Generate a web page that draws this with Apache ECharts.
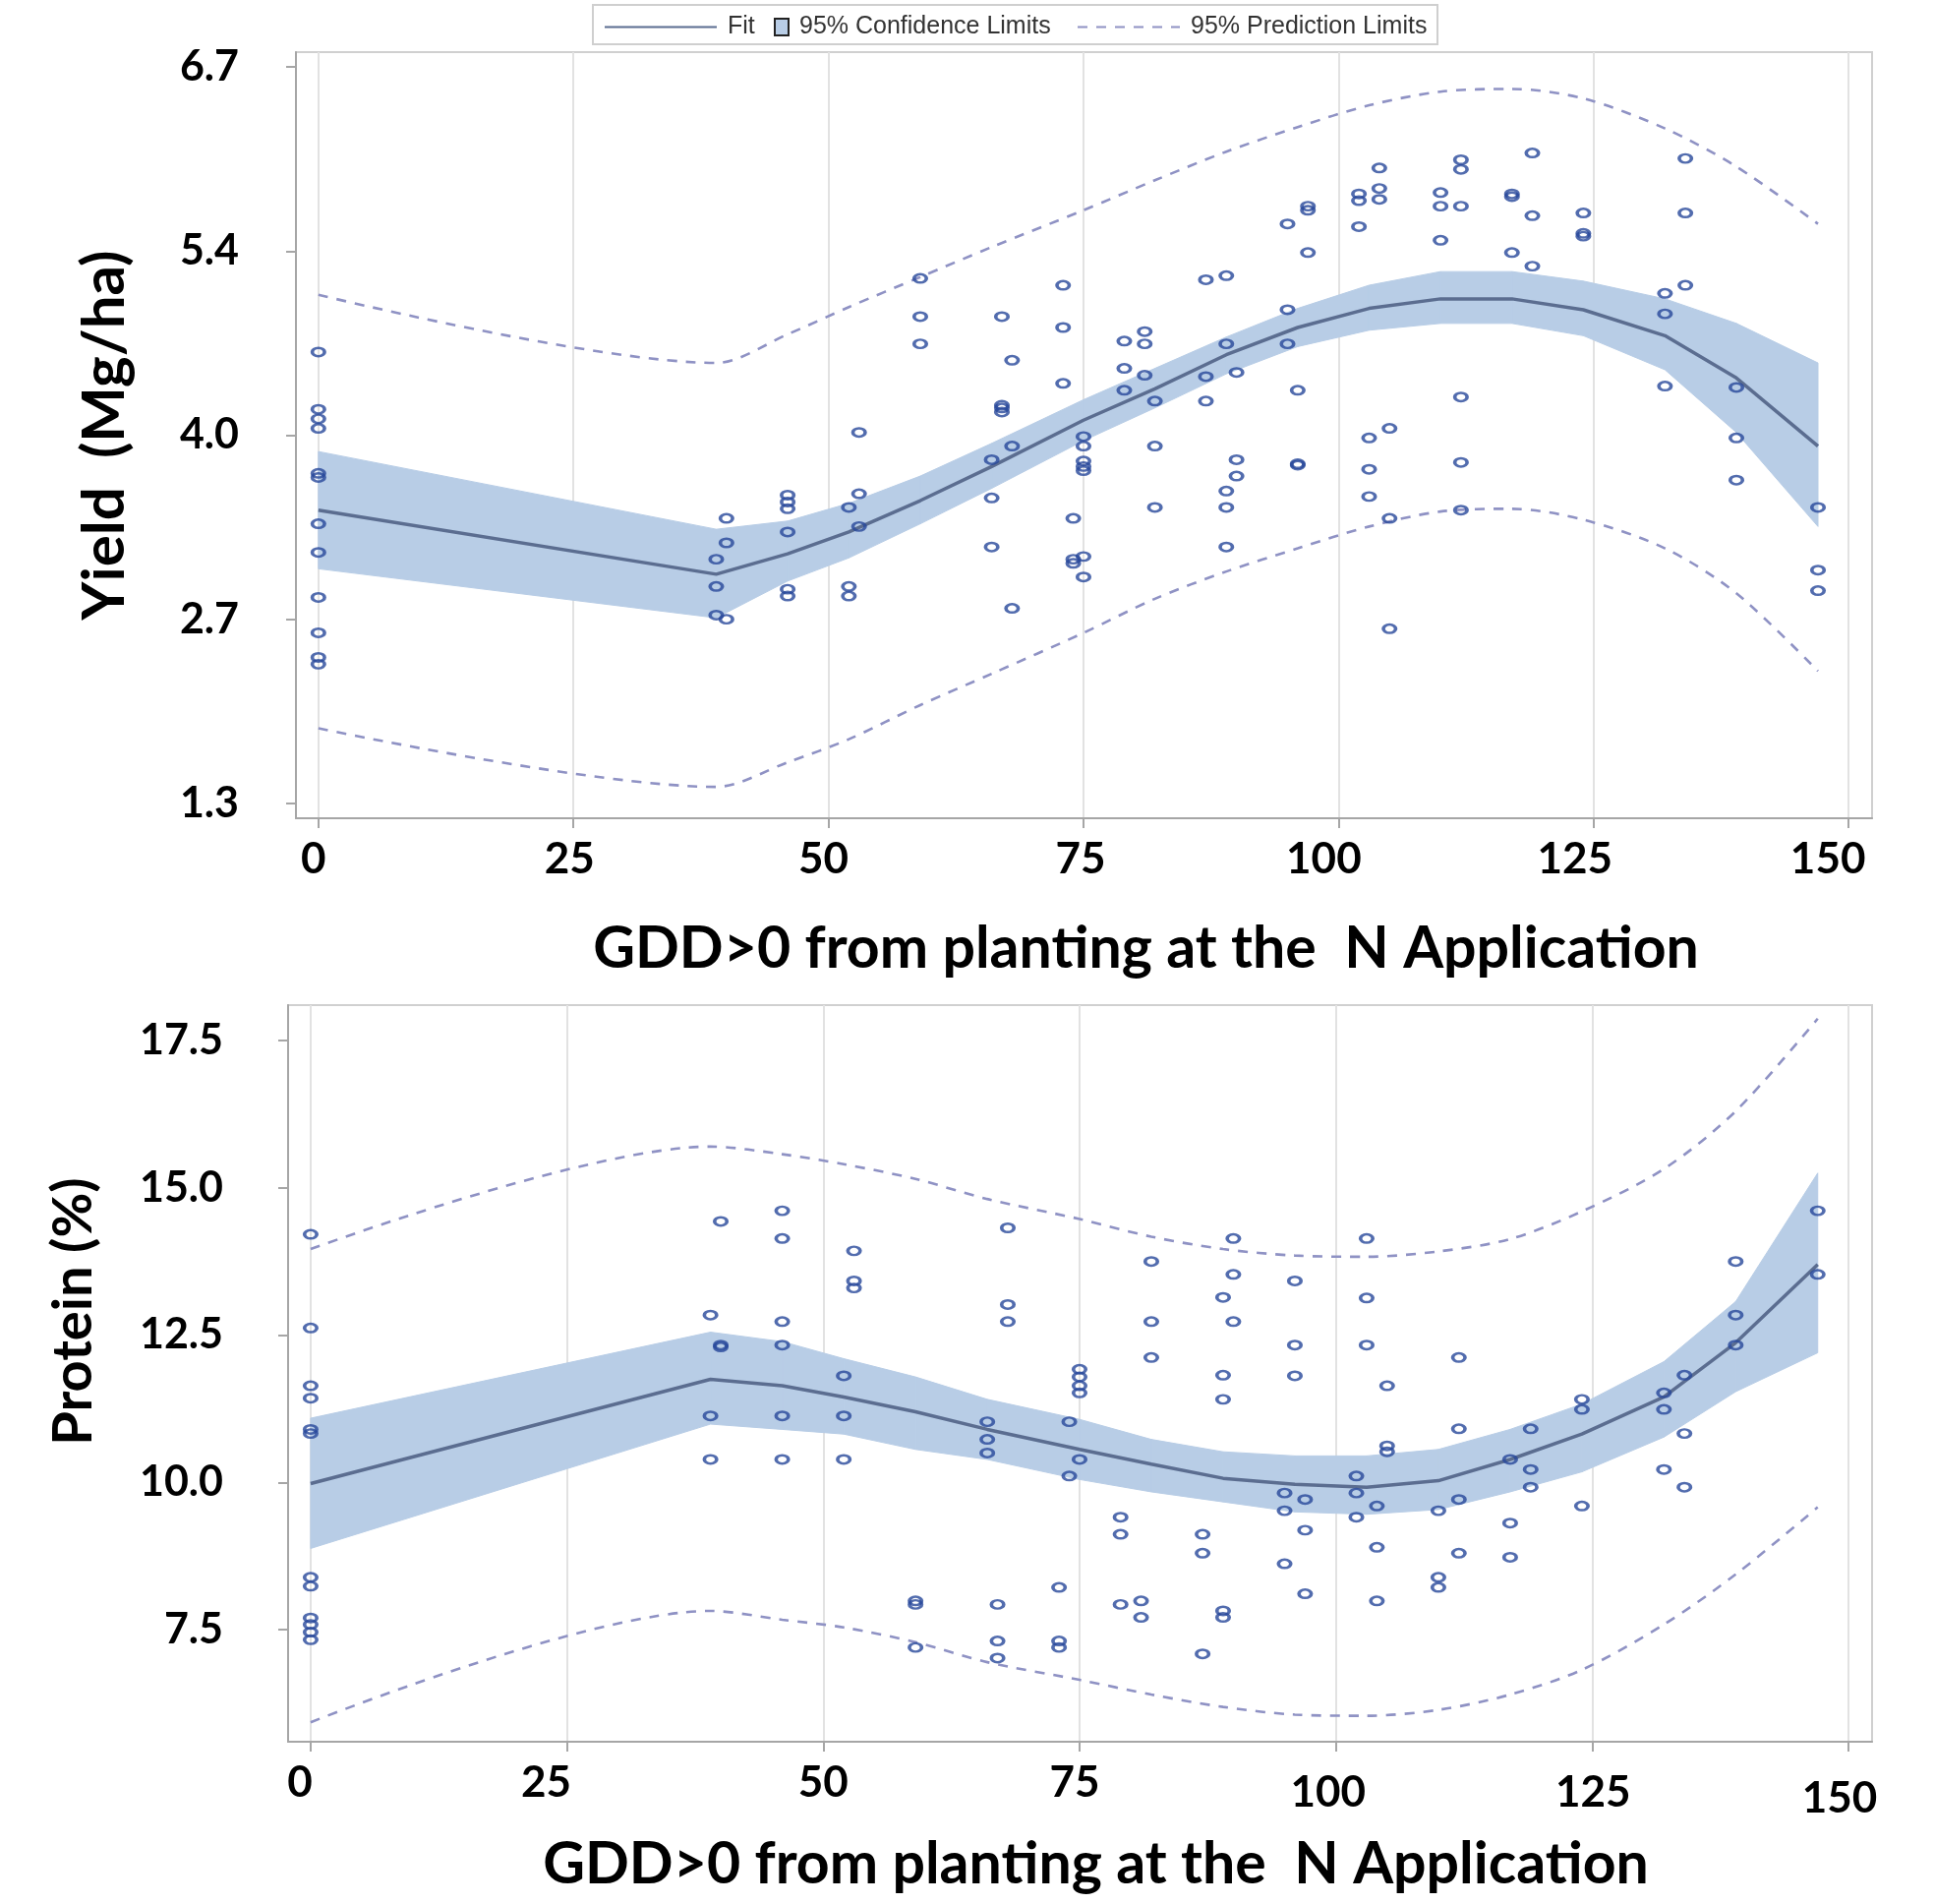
<!DOCTYPE html>
<html>
<head>
<meta charset="utf-8">
<title>Yield and protein vs GDD at N application</title>
<script src="https://cdn.jsdelivr.net/npm/echarts@6/dist/echarts.min.js"></script>
<style>
  html, body { margin: 0; padding: 0; background: #fff; }
  #chart { width: 1967px; height: 1936px; }
</style>
</head>
<body>
<div id="chart"></div>
<script>
// GDD values where the fitted curves are evaluated
const fitX = [0, 39, 46, 52, 59, 66, 75, 82, 89, 96, 103, 110, 117, 124, 132, 139, 147];

// Yield (Mg/ha): fit, 95% confidence and prediction limits
const yieldFit  = [3.45, 2.98, 3.13, 3.29, 3.52, 3.77, 4.11, 4.34, 4.59, 4.79, 4.93, 5.00, 5.00, 4.92, 4.73, 4.42, 3.92];
const yieldClLo = [3.02, 2.66, 2.93, 3.10, 3.35, 3.61, 3.96, 4.20, 4.45, 4.65, 4.77, 4.82, 4.82, 4.73, 4.48, 4.02, 3.33];
const yieldClHi = [3.88, 3.31, 3.37, 3.50, 3.70, 3.94, 4.26, 4.49, 4.72, 4.93, 5.10, 5.20, 5.20, 5.13, 5.00, 4.82, 4.53];
const yieldPlLo = [1.85, 1.42, 1.60, 1.77, 2.02, 2.25, 2.55, 2.80, 3.00, 3.17, 3.33, 3.44, 3.46, 3.38, 3.17, 2.84, 2.27];
const yieldPlHi = [5.03, 4.53, 4.74, 4.94, 5.16, 5.38, 5.65, 5.87, 6.08, 6.26, 6.42, 6.52, 6.54, 6.47, 6.25, 5.97, 5.55];

// Protein (%): fit, 95% confidence and prediction limits
const proteinFit  = [9.98, 11.75, 11.64, 11.45, 11.20, 10.90, 10.56, 10.31, 10.07, 9.97, 9.92, 10.03, 10.39, 10.82, 11.45, 12.37, 13.70];
const proteinClLo = [8.88, 10.99, 10.90, 10.82, 10.56, 10.39, 10.05, 9.84, 9.67, 9.50, 9.46, 9.54, 9.84, 10.18, 10.77, 11.54, 12.20];
const proteinClHi = [11.09, 12.55, 12.39, 12.10, 11.79, 11.41, 11.07, 10.73, 10.52, 10.45, 10.45, 10.56, 10.90, 11.33, 12.05, 13.07, 15.25];
const proteinPlLo = [5.93, 7.82, 7.67, 7.54, 7.29, 6.95, 6.65, 6.40, 6.19, 6.06, 6.04, 6.14, 6.40, 6.82, 7.59, 8.44, 9.58];
const proteinPlHi = [13.96, 15.70, 15.57, 15.40, 15.15, 14.81, 14.47, 14.17, 13.96, 13.85, 13.83, 13.92, 14.13, 14.60, 15.32, 16.30, 17.87];

// observed plots [GDD, yield]
const yieldObs = [
  [0, 4.61], [0, 4.19], [0, 4.12], [0, 4.05], [0, 3.72], [0, 3.69], [0, 3.35], [0, 3.14], [0, 2.81], [0, 2.55], [0, 2.37], [0, 2.32],
  [39, 3.09], [39, 2.89], [39, 2.68], [40, 3.39], [40, 3.21], [40, 2.65],
  [46, 3.56], [46, 3.51], [46, 3.46], [46, 3.29], [46, 2.87], [46, 2.82],
  [52, 3.47], [52, 2.89], [52, 2.82], [53, 4.02], [53, 3.57], [53, 3.33],
  [59, 5.15], [59, 4.87], [59, 4.67],
  [66, 3.82], [66, 3.54], [66, 3.18], [67, 4.87], [67, 4.22], [67, 4.20], [67, 4.17], [68, 4.55], [68, 3.92], [68, 2.73],
  [73, 5.10], [73, 4.79], [73, 4.38], [74, 3.39], [74, 3.09], [74, 3.06],
  [75, 3.99], [75, 3.92], [75, 3.81], [75, 3.77], [75, 3.74], [75, 3.11], [75, 2.96],
  [79, 4.69], [79, 4.49], [79, 4.33], [81, 4.76], [81, 4.67], [81, 4.44], [82, 4.25], [82, 3.92], [82, 3.47],
  [87, 5.14], [87, 4.43], [87, 4.25], [89, 5.17], [89, 4.67], [89, 3.59], [89, 3.47], [89, 3.18], [90, 4.46], [90, 3.82], [90, 3.70],
  [95, 5.55], [95, 4.92], [95, 4.67], [96, 4.33], [96, 3.79], [96, 3.78], [97, 5.68], [97, 5.65], [97, 5.34],
  [102, 5.77], [102, 5.72], [102, 5.53], [103, 3.98], [103, 3.75], [103, 3.55], [104, 5.96], [104, 5.81], [104, 5.73],
  [105, 4.05], [105, 3.39], [105, 2.58],
  [110, 5.78], [110, 5.68], [110, 5.43], [112, 6.02], [112, 5.95], [112, 5.68], [112, 4.28], [112, 3.80], [112, 3.45],
  [117, 5.77], [117, 5.75], [117, 5.34], [119, 6.07], [119, 5.61], [119, 5.24], [124, 5.63], [124, 5.48], [124, 5.46],
  [132, 5.04], [132, 4.89], [132, 4.36], [134, 6.03], [134, 5.63], [134, 5.10],
  [139, 4.35], [139, 3.98], [139, 3.67], [147, 3.47], [147, 3.01], [147, 2.86]
];

// observed plots [GDD, protein]
const proteinObs = [
  [0, 14.21], [0, 12.62], [0, 11.64], [0, 11.43], [0, 10.90], [0, 10.83], [0, 8.39], [0, 8.24], [0, 7.70], [0, 7.59], [0, 7.46], [0, 7.33],
  [39, 12.84], [39, 11.13], [39, 10.39], [40, 14.43], [40, 12.33], [40, 12.30],
  [46, 14.61], [46, 14.14], [46, 12.73], [46, 12.33], [46, 11.13], [46, 10.39],
  [52, 11.81], [52, 11.13], [52, 10.39], [53, 13.93], [53, 13.42], [53, 13.30],
  [59, 7.99], [59, 7.93], [59, 7.20],
  [66, 11.03], [66, 10.73], [66, 10.50], [67, 7.93], [67, 7.31], [67, 7.02], [68, 14.32], [68, 13.02], [68, 12.73],
  [73, 8.22], [73, 7.31], [73, 7.20], [74, 11.03], [74, 10.11],
  [75, 11.92], [75, 11.79], [75, 11.64], [75, 11.52], [75, 10.39],
  [79, 9.41], [79, 9.12], [79, 7.93], [81, 7.99], [81, 7.71], [82, 13.75], [82, 12.73], [82, 12.12],
  [87, 9.12], [87, 8.80], [87, 7.09], [89, 13.14], [89, 11.82], [89, 11.41], [89, 7.82], [89, 7.71], [90, 14.14], [90, 13.53], [90, 12.73],
  [95, 9.82], [95, 9.52], [95, 8.62], [96, 13.42], [96, 12.33], [96, 11.81], [97, 9.71], [97, 9.19], [97, 8.11],
  [102, 10.11], [102, 9.82], [102, 9.41], [103, 14.14], [103, 13.13], [103, 12.33], [104, 9.60], [104, 8.90], [104, 7.99],
  [105, 11.64], [105, 10.62], [105, 10.52],
  [110, 9.52], [110, 8.39], [110, 8.22], [112, 12.12], [112, 10.91], [112, 9.71], [112, 8.80],
  [117, 10.39], [117, 9.31], [117, 8.73], [119, 10.91], [119, 10.22], [119, 9.92], [124, 11.41], [124, 11.24], [124, 9.60],
  [132, 11.52], [132, 11.24], [132, 10.22], [134, 11.82], [134, 10.83], [134, 9.92],
  [139, 13.75], [139, 12.84], [139, 12.33], [147, 14.61], [147, 13.53]
];

// axis ticks
const xTicks = [0, 25, 50, 75, 100, 125, 150];
const yieldTicks = [1.3, 2.65, 4.0, 5.35, 6.7];
const yieldTickLabels = ['1.3', '2.7', '4.0', '5.4', '6.7'];
const proteinTicks = [7.5, 10, 12.5, 15, 17.5];
const proteinTickLabels = ['7.5', '10.0', '12.5', '15.0', '17.5'];

const xTitle = 'GDD>0 from planting at the  N Application';

const BAND = '#b8cde6';
const FIT = '#5b6d90';
const PRED = '#8f92c4';
const DOT = '#27479a';
const FONT = 'Lato';

// the tick labels in the picture sit a little off their ticks: [dx, dy] nudges in px
const topLabelNudge = [[-5, 0], [-4, 0], [-5, 0], [-3, 0], [-15, 0], [-19, 0], [-21, 0]];
const bottomLabelNudge = [[-11, 0], [-21, 0], [0, 0], [-5, 0], [-8, 10], [1, 10], [-9, 16]];

const pair = (xs, ys) => xs.map((x, i) => [x, ys[i]]);
const pickLabel = (ticks, labels) => (v) => {
  let best = 0;
  ticks.forEach((t, i) => { if (Math.abs(t - v) < Math.abs(ticks[best] - v)) best = i; });
  return labels[best];
};

function xAxisFor(gridIndex, nameGap, namePad, nudge) {
  const rich = {};
  nudge.forEach(([dx, dy], i) => {
    rich['t' + i] = {
      fontFamily: FONT, fontWeight: 'bold', fontSize: 44, color: '#000',
      padding: [Math.max(dy, 0), Math.max(-2 * dx, 0), 0, Math.max(2 * dx, 0)]
    };
  });
  return {
    type: 'value', gridIndex, min: -2.2, max: 152.3,
    name: xTitle, nameLocation: 'middle', nameGap,
    nameTextStyle: { fontFamily: FONT, fontWeight: 'bold', fontSize: 59, color: '#000', padding: [0, 0, 0, namePad] },
    axisLine: { show: true, onZero: false, lineStyle: { color: '#a6a6a6', width: 2 } },
    axisTick: { show: true, customValues: xTicks, length: 10, lineStyle: { color: '#a6a6a6', width: 2 } },
    axisLabel: {
      customValues: xTicks, margin: 20,
      formatter: (v) => {
        const i = xTicks.indexOf(Math.round(v));
        return '{t' + i + '|' + v + '}';
      },
      rich
    },
    splitLine: { show: true, lineStyle: { color: '#e2e2e2', width: 2 } }
  };
}

function yAxisFor(gridIndex, min, max, ticks, labels, name, nameSize, nameGap, namePad, labelMargin) {
  return {
    type: 'value', gridIndex, min, max,
    name, nameLocation: 'middle', nameGap,
    nameTextStyle: { fontFamily: FONT, fontWeight: 'bold', fontSize: nameSize, color: '#000', padding: [0, 0, 0, namePad] },
    axisLine: { show: true, onZero: false, lineStyle: { color: '#a6a6a6', width: 2 } },
    axisTick: { show: true, customValues: ticks, length: 10, lineStyle: { color: '#a6a6a6', width: 2 } },
    axisLabel: { customValues: ticks, formatter: pickLabel(ticks, labels), margin: labelMargin, fontFamily: FONT, fontWeight: 'bold', fontSize: 43, color: '#000' },
    splitLine: { show: false }
  };
}

function seriesFor(idx, fit, clLo, clHi, plLo, plHi, obs) {
  const line = { xAxisIndex: idx, yAxisIndex: idx, type: 'line', symbol: 'none', showSymbol: false, silent: true };
  const dash = { color: PRED, width: 2.6, type: [10, 9] };
  return [
    {
      // confidence band drawn as one quad per segment between the limits
      name: '95% Confidence Limits', type: 'custom', xAxisIndex: idx, yAxisIndex: idx, silent: true, z: 1,
      data: fitX.map((x, i) => [x, clLo[i], clHi[i]]),
      encode: { x: 0, y: [1, 2] },
      itemStyle: { color: BAND },
      renderItem: (params, api) => {
        const i = params.dataIndex;
        if (i >= fitX.length - 1) return null;
        const pts = [
          api.coord([fitX[i], clHi[i]]), api.coord([fitX[i + 1], clHi[i + 1]]),
          api.coord([fitX[i + 1], clLo[i + 1]]), api.coord([fitX[i], clLo[i]])
        ];
        return { type: 'polygon', shape: { points: pts }, style: { fill: BAND, stroke: BAND, lineWidth: 1 } };
      }
    },
    Object.assign({}, line, {
      name: '95% Prediction Limits', data: pair(fitX, plHi), smooth: 0.3,
      lineStyle: dash, itemStyle: { color: PRED }, z: 2
    }),
    Object.assign({}, line, {
      name: '95% Prediction Limits', data: pair(fitX, plLo), smooth: 0.3,
      lineStyle: dash, itemStyle: { color: PRED }, z: 2
    }),
    Object.assign({}, line, {
      name: 'Fit', data: pair(fitX, fit),
      lineStyle: { color: FIT, width: 3.5 }, itemStyle: { color: FIT }, z: 3
    }),
    {
      name: 'obs-' + idx, type: 'scatter', xAxisIndex: idx, yAxisIndex: idx, data: obs,
      symbol: 'circle', symbolSize: [12.5, 8.5], silent: true, z: 4,
      itemStyle: { color: 'rgba(255,255,255,0)', borderColor: DOT, borderWidth: 3 }
    }
  ];
}

const legendText = { fontFamily: 'Liberation Sans', fontSize: 25, color: '#333', padding: [0, 0, 0, 6] };

const chart = echarts.init(document.getElementById('chart'), null, { renderer: 'canvas' });
chart.setOption({
  animation: false,
  backgroundColor: '#fff',
  graphic: [{
    type: 'rect', left: 602, top: 4, z: 0,
    shape: { width: 859, height: 40 },
    style: { fill: '#fff', stroke: '#cfcfcf', lineWidth: 2 }
  }],
  legend: [
    { data: [{ name: 'Fit', itemStyle: { opacity: 0 } }], left: 614, top: 15, padding: 0, itemWidth: 114, itemHeight: 14,
      textStyle: legendText, selectedMode: false },
    { data: [{ name: '95% Confidence Limits', icon: 'rect', itemStyle: { color: BAND, borderColor: '#222', borderWidth: 2 } }],
      left: 787, top: 15, padding: 0, itemWidth: 14, itemHeight: 17, textStyle: legendText, selectedMode: false },
    { data: [{ name: '95% Prediction Limits', itemStyle: { opacity: 0 } }], left: 1095, top: 15, padding: 0, itemWidth: 104, itemHeight: 14,
      textStyle: legendText, selectedMode: false }
  ],
  grid: [
    { left: 301, top: 53, width: 1603, height: 779, show: true, borderColor: '#d0d0d0', borderWidth: 2,
      backgroundColor: 'transparent', outerBoundsMode: 'none' },
    { left: 293, top: 1022, width: 1611, height: 749, show: true, borderColor: '#d0d0d0', borderWidth: 2,
      backgroundColor: 'transparent', outerBoundsMode: 'none' }
  ],
  xAxis: [
    xAxisFor(0, 103, 126, topLabelNudge),
    xAxisFor(1, 95, 32, bottomLabelNudge)
  ],
  yAxis: [
    yAxisFor(0, 1.19, 6.81, yieldTicks, yieldTickLabels, 'Yield  (Mg/ha)', 60, 164, 0, 58),
    yAxisFor(1, 5.6, 18.1, proteinTicks, proteinTickLabels, 'Protein (%)', 56, 190, 126, 66)
  ],
  series: [].concat(
    seriesFor(0, yieldFit, yieldClLo, yieldClHi, yieldPlLo, yieldPlHi, yieldObs),
    seriesFor(1, proteinFit, proteinClLo, proteinClHi, proteinPlLo, proteinPlHi, proteinObs)
  )
});

window.addEventListener('resize', () => chart.resize());
</script>
</body>
</html>
